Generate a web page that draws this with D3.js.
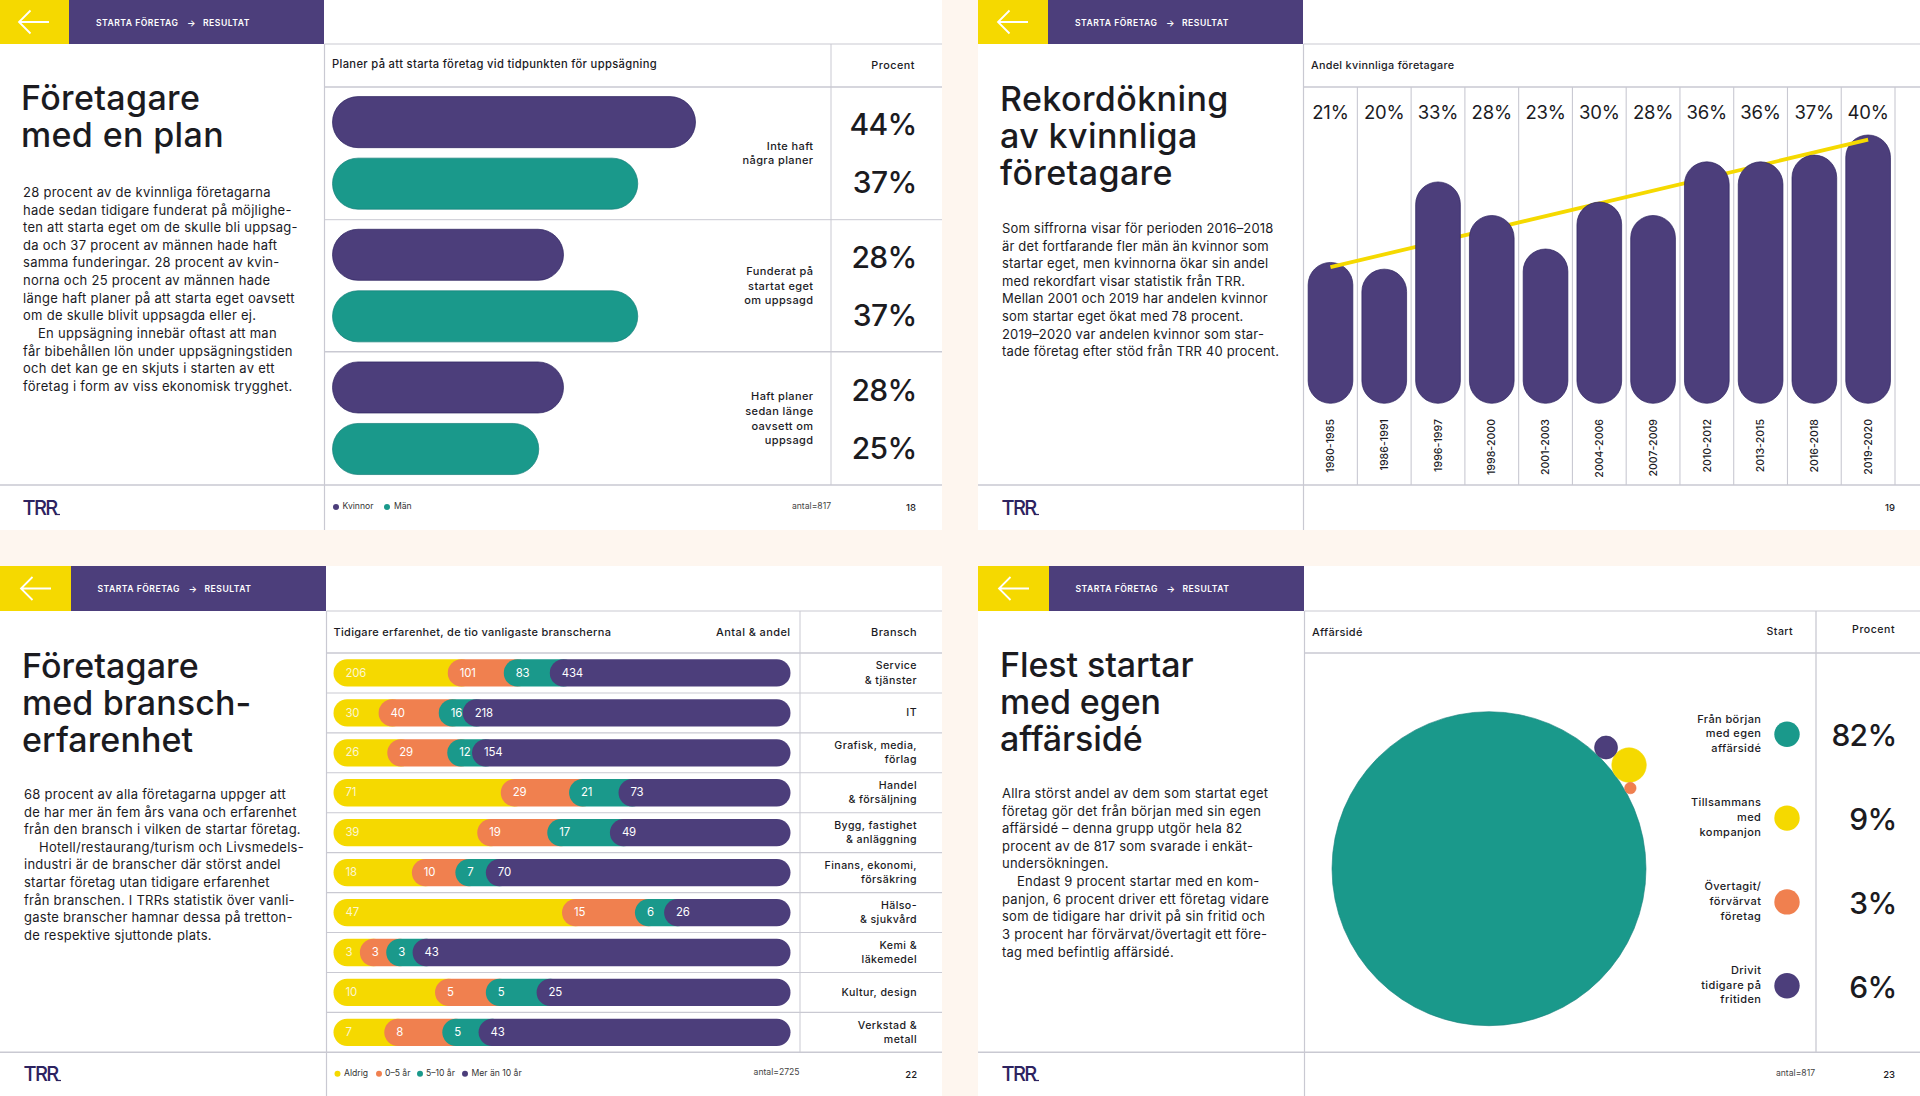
<!DOCTYPE html>
<html lang="sv"><head><meta charset="utf-8">
<style>html,body{margin:0;padding:0;background:#fef6ef}svg{display:block}text{font-family:Inter,"Noto Sans",sans-serif}</style>
<script src="https://cdn.jsdelivr.net/npm/d3@7"></script></head><body>
<script>
// ---------- data ----------
const crumbs = ["STARTA FÖRETAG", "RESULTAT"];
const planCategories = [["Inte haft","några planer"],["Funderat på","startat eget","om uppsagd"],["Haft planer","sedan länge","oavsett om","uppsagd"]];
const planWomen = [44, 28, 28];
const planMen = [37, 37, 25];
const planLegend = ["Kvinnor", "Män"];

const sharePeriods = ["1980-1985","1986-1991","1996-1997","1998-2000","2001-2003","2004-2006","2007-2009","2010-2012","2013-2015","2016-2018","2019-2020"];
const shareValues = [21,20,33,28,23,30,28,36,36,37,40];
const shareTrend = [20.3, 39.3];

const industries = [["Service","& tjänster"],["IT"],["Grafisk, media,","förlag"],["Handel","& försäljning"],["Bygg, fastighet","& anläggning"],["Finans, ekonomi,","försäkring"],["Hälso-","& sjukvård"],["Kemi &","läkemedel"],["Kultur, design"],["Verkstad &","metall"]];
const expNever = [206,30,26,71,39,18,47,3,10,7];
const exp0to5 = [101,40,29,29,19,10,15,3,5,8];
const exp5to10 = [83,16,12,21,17,7,6,3,5,5];
const expOver10 = [434,218,154,73,49,70,26,43,25,43];
const expLegend = ["Aldrig","0–5 år","5–10 år","Mer än 10 år"];

const startLabels = [["Från början","med egen","affärsidé"],["Tillsammans","med","kompanjon"],["Övertagit/","förvärvat","företag"],["Drivit","tidigare på","fritiden"]];
const startValues = [82,9,3,6];
const startAngles = [0,36.5,29.7,46];

const titles = [["Företagare","med en plan"],["Rekordökning","av kvinnliga","företagare"],["Företagare","med bransch-","erfarenhet"],["Flest startar","med egen","affärsidé"]];
const bodies = [
["28 procent av de kvinnliga företagarna","hade sedan tidigare funderat på möjlighe-","ten att starta eget om de skulle bli uppsag-","da och 37 procent av männen hade haft","samma funderingar. 28 procent av kvin-","norna och 25 procent av männen hade","länge haft planer på att starta eget oavsett","om de skulle blivit uppsagda eller ej.","\tEn uppsägning innebär oftast att man","får bibehållen lön under uppsägningstiden","och det kan ge en skjuts i starten av ett","företag i form av viss ekonomisk trygghet."],
["Som siffrorna visar för perioden 2016–2018","är det fortfarande fler män än kvinnor som","startar eget, men kvinnorna ökar sin andel","med rekordfart visar statistik från TRR.","Mellan 2001 och 2019 har andelen kvinnor","som startar eget ökat med 78 procent.","2019–2020 var andelen kvinnor som star-","tade företag efter stöd från TRR 40 procent."],
["68 procent av alla företagarna uppger att","de har mer än fem års vana och erfarenhet","från den bransch i vilken de startar företag.","\tHotell/restaurang/turism och Livsmedels-","industri är de branscher där störst andel","startar företag utan tidigare erfarenhet","från branschen. I TRRs statistik över vanli-","gaste branscher hamnar dessa på tretton-","de respektive sjuttonde plats."],
["Allra störst andel av dem som startat eget","företag gör det från början med sin egen","affärsidé – denna grupp utgör hela 82","procent av de 817 som svarade i enkät-","undersökningen.","\tEndast 9 procent startar med en kom-","panjon, 6 procent driver ett företag vidare","som de tidigare har drivit på sin fritid och","3 procent har förvärvat/övertagit ett före-","tag med befintlig affärsidé."]];

// ---------- style ----------
const PURPLE="#4c3e7b", PURPLE_D="#2d2360", TEAL="#1a998b", TEAL_D="#15807a", YELLOW="#f5d900", ORANGE="#f0804f", INK="#1b1b1f", RULE="#c9c9d2", CREAM="#fef6ef";
const svg=d3.select("body").append("svg").attr("width",1920).attr("height",1096);
svg.append("rect").attr("width",1920).attr("height",1096).attr("fill",CREAM);

function T(g,x,y,s,o={}){
  const t=g.append("text").attr("x",x).attr("y",y).text(s)
    .attr("font-size",o.size||11.5).attr("font-weight",o.w||500).attr("fill",o.fill||INK)
    .attr("text-anchor",o.a||"start").attr("dominant-baseline",o.base||"auto");
  if(o.ls!=null)t.attr("letter-spacing",o.ls);
  return t;
}
function multi(g,x,yc,lines,o={}){const lh=o.lh||14.6;lines.forEach((l,i)=>T(g,x,yc+(i-(lines.length-1)/2)*lh,l,{a:"end",base:"middle",...o}));}
function rule(g,x1,y1,x2,y2,w=1.2){g.append("line").attr("x1",x1).attr("y1",y1).attr("x2",x2).attr("y2",y2).attr("stroke",RULE).attr("stroke-width",w);}

function page(cfg){
  const {x0,x1,y0,y1,sp,i,hy,ty,by,tx,crumbX,tls,bls}=cfg;
  const g=svg.append("g");
  g.append("rect").attr("x",x0).attr("y",y0).attr("width",x1-x0).attr("height",y1-y0).attr("fill","#fff");
  g.append("rect").attr("x",x0).attr("y",y0).attr("width",sp-x0-255).attr("height",hy-y0).attr("fill",YELLOW);
  g.append("rect").attr("x",sp-255).attr("y",y0).attr("width",255).attr("height",hy-y0).attr("fill",PURPLE);
  const ax=sp-305, ay=(y0+hy)/2;
  g.append("path").attr("d",`M${ax+30} ${ay}H${ax}M${ax+11.5} ${ay-11.5}L${ax} ${ay}L${ax+11.5} ${ay+11.5}`).attr("fill","none").attr("stroke","#fff").attr("stroke-width",1.8);
  const cy=ay+1.3;
  T(g,crumbX,cy,crumbs[0],{size:8.6,w:600,fill:"#fff",base:"middle",ls:.5});
  T(g,crumbX+91,cy,"→",{size:9,w:600,fill:"#fff",base:"middle"});
  T(g,crumbX+107,cy,crumbs[1],{size:8.6,w:600,fill:"#fff",base:"middle",ls:.5});
  titles[i].forEach((l,k)=>T(g,tx-1,ty+.5+k*37.2,l,{size:34,w:500,ls:tls}));
  bodies[i].forEach((l,k)=>{const ind=l[0]==="\t";T(g,tx+1+(ind?15:0),by+k*17.62,l.replace("\t",""),{size:13,w:400,ls:bls});});
  // logo
  T(g,tx+.5,y1-15,"TRR",{size:20,w:500,fill:PURPLE_D,ls:-1.6});
  g.append("path").attr("d",`M${tx+33} ${y1-15.5}H${tx+38}`).attr("stroke",PURPLE_D).attr("stroke-width",1.2);
  return g;
}
function frame(g,sp,x1,top,head,foot,bottom,x0){
  rule(g,sp,top,x1,top);rule(g,sp,head,x1,head,1.5);rule(g,x0,foot,x1,foot,1.4);rule(g,sp,top,sp,bottom);
}
function pageNo(g,x,y,s){T(g,x,y,s,{size:9.5,w:500,a:"end",base:"middle"});}
function antal(g,x,y,s){T(g,x,y,s,{size:8.6,w:400,fill:"#444",a:"end",base:"middle"});}
function legend(g,y,items,dotX,textX){items.forEach((d,k)=>{
  g.append("circle").attr("cx",dotX[k]).attr("cy",y).attr("r",3).attr("fill",d.c);
  T(g,textX[k],y,d.t,{size:8.6,w:400,fill:"#333",base:"middle"});});}

// ---------- page 18 ----------
{
  const g=page({x0:0,x1:942,y0:0,y1:530,sp:324,i:0,hy:44,ty:109,by:197,tx:22,crumbX:96,tls:.35,bls:.27});
  frame(g,324.5,942,44,87,485,530,0);
  rule(g,324.5,219.7,942,219.7,1);rule(g,324.5,351.7,942,351.7,1.4);rule(g,831,44,831,485,1);
  T(g,332,64.5,"Planer på att starta företag vid tidpunkten för uppsägning",{size:11.2,base:"middle",ls:.33});
  T(g,915,66,"Procent",{size:10.8,a:"end",base:"middle",ls:.5});
  const x=d3.scaleLinear().domain([0,44]).range([332.5,695.5]);
  const row=d3.scaleBand().domain(d3.range(planWomen.length)).range([87,485]);
  const sub=d3.scaleBand().domain([0,1]).range([0,112.6]).paddingInner(.17).paddingOuter(0);
  const series=[{v:planWomen,c:PURPLE,s:PURPLE_D},{v:planMen,c:TEAL,s:TEAL_D}];
  series.forEach((s,si)=>{
    g.selectAll(null).data(s.v).join("rect")
      .attr("x",x(0)).attr("y",(d,k)=>row(k)+9.6+sub(si)).attr("width",d=>x(d)-x(0)).attr("height",sub.bandwidth())
      .attr("rx",sub.bandwidth()/2).attr("fill",s.c).attr("stroke",s.s).attr("stroke-width",.7);
    s.v.forEach((d,k)=>T(g,916.5,row(k)+69+(si?29:-29),d+"%",{size:30,w:500,a:"end",base:"middle",ls:-.7}));
  });
  planCategories.forEach((l,k)=>multi(g,813.5,row(k)+67,l,{size:11,lh:14.7,ls:.4}));
  legend(g,507,[{t:planLegend[0],c:PURPLE},{t:planLegend[1],c:TEAL}],[336,387],[342.5,394]);
  antal(g,831,507,"antal=817");pageNo(g,916,508,"18");
}
// ---------- page 19 ----------
{
  const g=page({x0:978,x1:1920,y0:0,y1:530,sp:1303,i:1,hy:44,ty:110.5,by:233,tx:1001,crumbX:1075,tls:.4,bls:.17});
  frame(g,1303.5,1920,44,87,485,530,978);
  T(g,1311,66,"Andel kvinnliga företagare",{size:10.8,base:"middle",ls:.3});
  const x=d3.scaleBand().domain(sharePeriods).range([1303.6,1895]);
  const y=d3.scaleLinear().domain([0,40]).range([403.3,135]);
  x.domain().forEach(p=>rule(g,x(p)+x.bandwidth(),87,x(p)+x.bandwidth(),485,1.1));
  const bw=44.7, bar=(sel)=>sel.attr("x",d=>x(d.p)+x.bandwidth()/2-bw/2).attr("y",d=>y(d.v)).attr("width",bw).attr("height",d=>y(0)-y(d.v)).attr("rx",bw/2).attr("fill",PURPLE).attr("stroke",PURPLE_D).attr("stroke-width",.7);
  const data=sharePeriods.map((p,k)=>({p,v:shareValues[k]}));
  const ends=data.filter((d,k)=>k===0||k===data.length-1), mid=data.filter((d,k)=>k>0&&k<data.length-1);
  bar(g.selectAll(null).data(ends).join("rect"));
  const px=[sharePeriods[0],sharePeriods[sharePeriods.length-1]];
  g.append("path").attr("d",d3.line().x((d,k)=>x(px[k])+x.bandwidth()/2).y(d=>y(d))(shareTrend)).attr("stroke",YELLOW).attr("stroke-width",3.8).attr("fill","none");
  bar(g.selectAll(null).data(mid).join("rect"));
  data.forEach(d=>T(g,x(d.p)+x.bandwidth()/2,113.7,d.v+"%",{size:18.5,w:400,a:"middle",base:"middle",ls:-.2}));
  const ax=g.append("g").attr("transform","translate(0,419)").call(d3.axisBottom(x).tickSize(0));
  ax.select(".domain").remove();
  ax.selectAll("text").attr("transform","rotate(-90)").attr("x",0).attr("y",0).attr("dy","0.35em").attr("text-anchor","end")
    .attr("fill",INK).attr("font-size",10.6).attr("font-weight",500).style("font-family","Inter");
  pageNo(g,1895,508,"19");
}
// ---------- page 22 ----------
{
  const g=page({x0:0,x1:942,y0:566,y1:1096,sp:326,i:2,hy:611,ty:677,by:799,tx:23,crumbX:97.5,tls:.1,bls:.25});
  frame(g,326.5,942,611,653,1052.3,1096,0);rule(g,800,611,800,1052.3,1);
  T(g,333.5,632.5,"Tidigare erfarenhet, de tio vanligaste branscherna",{size:11,base:"middle",ls:.3});
  T(g,790.5,632.5,"Antal & andel",{size:11,a:"end",base:"middle",ls:.4});
  T(g,917,632.5,"Bransch",{size:11,a:"end",base:"middle",ls:.4});
  const keys=["never","y0","y5","y10"], cols=[YELLOW,ORANGE,TEAL,PURPLE];
  const table=industries.map((n,k)=>({k,never:expNever[k],y0:exp0to5[k],y5:exp5to10[k],y10:expOver10[k]}));
  const stack=d3.stack().keys(keys).offset(d3.stackOffsetExpand)(table);
  const x=d3.scaleLinear().domain([0,1]).range([333.5,790.5]);
  const row=d3.scaleBand().domain(d3.range(industries.length)).range([653,1052.3]);
  const h=27.3;
  row.domain().slice(0,-1).forEach(k=>rule(g,326.5,row(k)+row.bandwidth(),942,row(k)+row.bandwidth(),1.1));
  stack.forEach((s,si)=>{
    g.selectAll(null).data(s).join("rect")
      .attr("x",d=>x(d[0])).attr("y",(d,k)=>row(k)+row.bandwidth()/2-h/2)
      .attr("width",d=>Math.min(x(1),x(d[1])+h)-x(d[0])).attr("height",h).attr("rx",h/2).attr("fill",cols[si]);
    s.forEach((d,k)=>T(g,x(d[0])+12,row(k)+row.bandwidth()/2+.5,table[k][keys[si]],{size:11.4,w:400,fill:si===0?"#fdf6cf":"#fff",base:"middle",ls:-.2}));
  });
  industries.forEach((l,k)=>multi(g,917,row(k)+row.bandwidth()/2+.5,l,{size:10.6,lh:14.3,ls:.42}));
  legend(g,1073.7,expLegend.map((t,k)=>({t,c:cols[k]})),[337.5,379,420,465],[344,385,426,471.5]);
  antal(g,799.5,1073,"antal=2725");pageNo(g,917,1075,"22");
}
// ---------- page 23 ----------
{
  const g=page({x0:978,x1:1920,y0:566,y1:1096,sp:1304,i:3,hy:611,ty:676,by:798,tx:1001,crumbX:1075.5,tls:-.1,bls:.25});
  frame(g,1304.5,1920,611,653,1052.3,1096,978);rule(g,1816,611,1816,1052.3,1.3);
  T(g,1312,632.5,"Affärsidé",{size:11,base:"middle",ls:.3});
  T(g,1793,632.5,"Start",{size:10.6,a:"end",base:"middle",ls:.4});
  T(g,1895,630.5,"Procent",{size:10.6,a:"end",base:"middle",ls:.5});
  const cols=[TEAL,YELLOW,ORANGE,PURPLE], strokes=[TEAL_D,YELLOW,"#e8744a",PURPLE_D];
  const r=d3.scaleLinear().domain([0,82]).range([0,157]);
  const cx=1489, cy=868.7;
  const pos=k=>{const R=k===0?0:r(startValues[0])+r(startValues[k]);const a=startAngles[k]*Math.PI/180;return [cx+R*Math.cos(a),cy-R*Math.sin(a)];};
  g.selectAll(null).data(startValues).join("circle").attr("cx",(d,k)=>pos(k)[0]).attr("cy",(d,k)=>pos(k)[1]).attr("r",d=>r(d))
    .attr("fill",(d,k)=>cols[k]).attr("stroke",(d,k)=>strokes[k]).attr("stroke-width",.6);
  const ly=d3.scalePoint().domain(d3.range(4)).range([734.3,985.7]);
  g.selectAll(null).data(startValues).join("circle").attr("cx",1787).attr("cy",(d,k)=>ly(k)).attr("r",12.7).attr("fill",(d,k)=>cols[k]);
  startLabels.forEach((l,k)=>{multi(g,1761.3,ly(k),l,{size:11,lh:14.7,ls:.4});T(g,1896.5,ly(k)+4,startValues[k]+"%",{size:30,w:500,a:"end",base:"middle",ls:-.7});});
  antal(g,1815,1073.7,"antal=817");pageNo(g,1895,1075,"23");
}
</script></body></html>
